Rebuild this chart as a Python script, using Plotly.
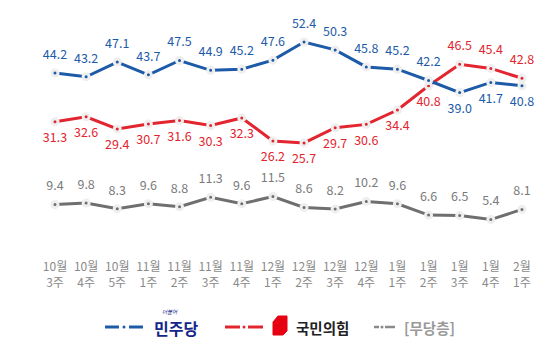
import plotly.graph_objects as go

weeks = ["10월<br>3주", "10월<br>4주", "10월<br>5주", "11월<br>1주", "11월<br>2주", "11월<br>3주",
         "11월<br>4주", "12월<br>1주", "12월<br>2주", "12월<br>3주", "12월<br>4주", "1월<br>1주",
         "1월<br>2주", "1월<br>3주", "1월<br>4주", "2월<br>1주"]
minju = [44.2, 43.2, 47.1, 43.7, 47.5, 44.9, 45.2, 47.6, 52.4, 50.3, 45.8, 45.2, 42.2, 39.0, 41.7, 40.8]
ppp = [31.3, 32.6, 29.4, 30.7, 31.6, 30.3, 32.3, 26.2, 25.7, 29.7, 30.6, 34.4, 40.8, 46.5, 45.4, 42.8]
indep = [9.4, 9.8, 8.3, 9.6, 8.8, 11.3, 9.6, 11.5, 8.6, 8.2, 10.2, 9.6, 6.6, 6.5, 5.4, 8.1]

BLUE = "#1d5ba8"
RED = "#e2252e"
GRAY = "#6f6f6f"
FONT = "Noto Sans CJK KR"

W, H = 554, 351
PLOT_BOTTOM = 240

def px(x):
    return x / W

def py(y):
    return (PLOT_BOTTOM - y) / PLOT_BOTTOM

xs = list(range(len(weeks)))

minju_pos = ["top center"] * 13 + ["bottom center"] * 3
ppp_pos = ["bottom center"] * 13 + ["top center"] * 3

fig = go.Figure()

def series(vals, color, pos, tcolor):
    fig.add_trace(go.Scatter(
        x=xs, y=vals, mode="lines+markers",
        line=dict(color=color, width=3),
        marker=dict(size=6, color=color, line=dict(color="#eeeeee", width=3)),
        cliponaxis=False, showlegend=False, hoverinfo="skip",
    ))
    fig.add_trace(go.Scatter(
        x=xs, y=vals, mode="markers+text",
        marker=dict(size=16, opacity=0),
        text=[f"{v:.1f}" for v in vals],
        textposition=pos,
        textfont=dict(family=FONT, size=12.5, color=tcolor),
        cliponaxis=False, showlegend=False, hoverinfo="skip",
    ))

series(indep, GRAY, "top center", "#7b7b7b")
series(ppp, RED, ppp_pos, RED)
series(minju, BLUE, minju_pos, BLUE)

shapes = []
annotations = []

def legend_line(x0, x1, dot, x2, x3, y, color, w=3):
    for a, b in ((x0, x1), (x2, x3)):
        shapes.append(dict(type="line", xref="paper", yref="paper",
                           x0=px(a), x1=px(b), y0=py(y), y1=py(y),
                           line=dict(color=color, width=w)))
    shapes.append(dict(type="circle", xref="paper", yref="paper",
                       x0=px(dot - 1.5), x1=px(dot + 1.5), y0=py(y + 1.5), y1=py(y - 1.5),
                       fillcolor=color, line=dict(width=0)))

LY = 327
legend_line(105, 119, 124, 129, 143, LY, BLUE)
annotations.append(dict(xref="paper", yref="paper", x=px(153), y=py(LY + 1), xanchor="left", yanchor="middle",
                        text="<b>민주당</b>", showarrow=False, borderpad=0,
                        font=dict(family=FONT, size=16, color="#15268a")))
annotations.append(dict(xref="paper", yref="paper", x=px(161), y=py(312), xanchor="left", yanchor="middle",
                        text="<i>더불어</i>", showarrow=False, borderpad=0,
                        font=dict(family=FONT, size=5.5, color="#15268a")))

legend_line(225, 240, 244, 248, 263, LY, RED)
path_pts = [(278, 316), (287, 316), (287, 331), (283, 335), (273, 335), (273, 322)]
path = "M " + " L ".join(f"{px(a)},{py(b)}" for a, b in path_pts) + " Z"
shapes.append(dict(type="path", xref="paper", yref="paper", path=path,
                   fillcolor="#e60012", line=dict(color="#e60012", width=1)))
annotations.append(dict(xref="paper", yref="paper", x=px(294), y=py(LY), xanchor="left", yanchor="middle",
                        text="<b>국민의힘</b>", showarrow=False,
                        font=dict(family=FONT, size=14.5, color="#222222")))

legend_line(374, 379, 382, 385, 395, LY, "#8a8a8a", w=2.5)
annotations.append(dict(xref="paper", yref="paper", x=px(402), y=py(LY), xanchor="left", yanchor="middle",
                        text="<b>[무당층]</b>", showarrow=False,
                        font=dict(family=FONT, size=14.5, color="#9a9a9a")))

step = 31.13
x0_px = 55
fig.update_layout(
    width=W, height=H,
    margin=dict(l=0, r=0, t=0, b=H - PLOT_BOTTOM),
    paper_bgcolor="white", plot_bgcolor="white",
    shapes=shapes, annotations=annotations,
    xaxis=dict(range=[-x0_px / step, (W - x0_px) / step], tickvals=xs, ticktext=weeks,
               showgrid=False, zeroline=False, showline=False,
               ticks="outside", ticklen=16, tickcolor="rgba(0,0,0,0)",
               tickfont=dict(family=FONT, size=12, color="#8a8a8a")),
    yaxis=dict(range=[0, 52.4 + 42 / 3.78], visible=False, showgrid=False, zeroline=False),
)

fig.write_html("out.html")
